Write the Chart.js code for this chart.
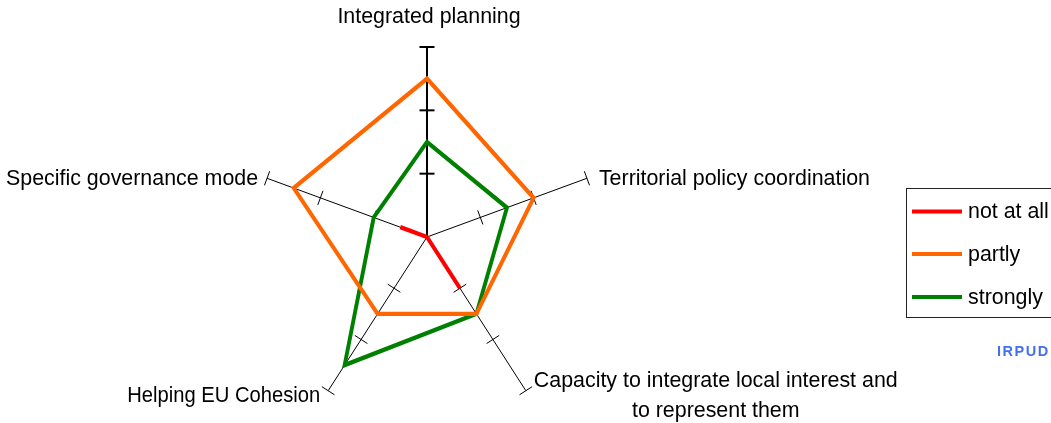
<!DOCTYPE html>
<html><head><meta charset="utf-8">
<script src="https://cdn.jsdelivr.net/npm/chart.js@4/dist/chart.umd.min.js"></script>
<style>
html,body{margin:0;padding:0;background:#fff;overflow:hidden;}
#wrap{position:relative;width:1051px;height:423px;overflow:hidden;background:#fff;}
canvas{position:absolute;left:0;top:0;}
</style></head><body>
<div id="wrap"><canvas id="c" width="1051" height="480"></canvas></div>
<script>
// ---- data ----
const categories = [
  ['Integrated planning'],
  ['Territorial policy coordination'],
  ['Capacity to integrate local interest and', 'to represent them'],
  ['Helping EU Cohesion'],
  ['Specific governance mode']
];
const seriesNames = ['not at all', 'partly', 'strongly'];
const notAtAll = [0, 0, 1, 0, 0.5];
const partly   = [2.5, 2, 1.5, 1.5, 2.5];
const strongly = [1.5, 1.5, 1.5, 2.5, 1];
const seriesColors = ['#FF0000', '#FF6600', '#008000'];
const scaleMax = 3;
const tickValues = [1, 2, 3];
const sourceNote = 'IRPUD';

// ---- style ----
const SX = 0.885;           // horizontal squeeze of the radar (ellipse)
const FONT = "21.4px 'Liberation Sans', Arial, sans-serif";

function tx(s, p) { return { x: s.xCenter + (p.x - s.xCenter) * SX, y: p.y }; }
function applySqueeze(ctx, s) {
  ctx.save();
  ctx.translate(s.xCenter, 0); ctx.scale(SX, 1); ctx.translate(-s.xCenter, 0);
}

const radarDecor = {
  id: 'radarDecor',
  beforeDraw(chart) { applySqueeze(chart.ctx, chart.scales.r); },
  beforeDatasetsDraw(chart) {
    const ctx = chart.ctx, s = chart.scales.r;
    ctx.restore();
    const c = { x: s.xCenter, y: s.yCenter };
    ctx.save();
    ctx.strokeStyle = '#000';
    for (let i = 0; i < categories.length; i++) {
      ctx.lineWidth = i === 0 ? 2 : 1;
      const end = tx(s, s.getPointPosition(i, s.getDistanceFromCenterForValue(scaleMax)));
      ctx.beginPath(); ctx.moveTo(c.x, c.y); ctx.lineTo(end.x, end.y); ctx.stroke();
      const dx = end.x - c.x, dy = end.y - c.y, L = Math.hypot(dx, dy);
      const px = -dy / L, py = dx / L;
      tickValues.forEach(v => {
        const p = tx(s, s.getPointPosition(i, s.getDistanceFromCenterForValue(v)));
        ctx.beginPath();
        ctx.moveTo(p.x - px * 7.5, p.y - py * 7.5);
        ctx.lineTo(p.x + px * 7.5, p.y + py * 7.5);
        ctx.stroke();
      });
    }
    ctx.restore();
    applySqueeze(ctx, s);
  },
  afterDraw(chart) {
    const ctx = chart.ctx, s = chart.scales.r;
    ctx.restore();
    ctx.save();
    ctx.font = FONT; ctx.fillStyle = '#000'; ctx.textBaseline = 'alphabetic';
    const ends = categories.map((_, i) => tx(s, s.getPointPosition(i, s.getDistanceFromCenterForValue(scaleMax))));
    // label 0: top
    ctx.textAlign = 'center';
    ctx.fillText(categories[0][0], ends[0].x + 2, ends[0].y - 24);
    // label 1: right
    ctx.textAlign = 'left';
    ctx.fillText(categories[1][0], ends[1].x + 12, ends[1].y + 7);
    // label 2: lower right, two centred lines
    const w1 = ctx.measureText(categories[2][0]).width;
    const cx2 = ends[2].x + 8 + w1 / 2;
    ctx.textAlign = 'center';
    categories[2].forEach((t, k) => ctx.fillText(t, cx2, ends[2].y - 4 + k * 30));
    // label 3: lower left (tightly set in the original)
    ctx.textAlign = 'right';
    ctx.fillText(categories[3][0], ends[3].x - 8, ends[3].y + 11, 193);
    // label 4: left
    ctx.fillText(categories[4][0], ends[4].x - 9, ends[4].y + 7);

    // legend
    ctx.strokeStyle = '#222'; ctx.lineWidth = 1;
    ctx.strokeRect(906.5, 188.5, 200, 129);
    const ys = [211.5, 254, 297];
    chart.data.datasets.forEach((d, k) => {
      ctx.strokeStyle = d.borderColor; ctx.lineWidth = 4;
      ctx.beginPath(); ctx.moveTo(912, ys[k]); ctx.lineTo(962, ys[k]); ctx.stroke();
      ctx.fillStyle = '#000'; ctx.textAlign = 'left';
      ctx.fillText(d.label, 968, ys[k] + 6.5);
    });

    // source note
    ctx.font = "bold 14.5px 'Liberation Sans', Arial, sans-serif";
    ctx.fillStyle = '#4270EE';
    ctx.textAlign = 'left';
    let x = 997;
    for (const ch of sourceNote) { ctx.fillText(ch, x, 356); x += ctx.measureText(ch).width + 1.5; }
    ctx.restore();
  }
};

const values = [notAtAll, partly, strongly];
new Chart(document.getElementById('c'), {
  type: 'radar',
  data: {
    labels: categories,
    datasets: seriesNames.map((n, k) => ({
      label: n,
      data: values[k],
      borderColor: seriesColors[k],
      backgroundColor: seriesColors[k],
      borderWidth: 4.4,
      borderJoinStyle: 'miter',
      borderCapStyle: 'butt',
      fill: false,
      pointRadius: 0,
      pointHoverRadius: 0,
      tension: 0
    }))
  },
  options: {
    responsive: false,
    animation: false,
    layout: { padding: { left: 237, right: 434, top: 47, bottom: 53 } },
    plugins: { legend: { display: false }, tooltip: { enabled: false }, title: { display: false } },
    scales: {
      r: {
        min: 0, max: scaleMax,
        ticks: { display: false, stepSize: 1 },
        grid: { display: false },
        angleLines: { display: false },
        pointLabels: { display: false }
      }
    }
  },
  plugins: [radarDecor]
});
</script>
</body></html>
